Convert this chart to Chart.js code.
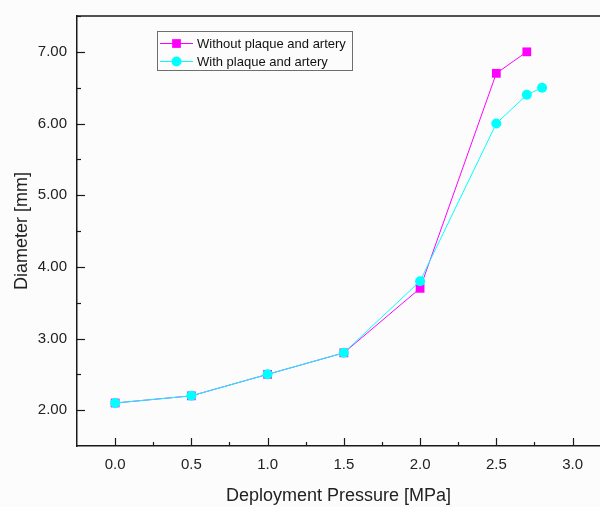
<!DOCTYPE html>
<html>
<head>
<meta charset="utf-8">
<script src="https://cdn.jsdelivr.net/npm/chart.js@4.4.0/dist/chart.umd.min.js"></script>
<style>
    html, body { margin: 0; padding: 0; background: #fcfcfc; }
    #wrap { width: 600px; height: 507px; overflow: hidden; }
</style>
</head>
<body>
<div id="wrap"><canvas id="diameterChart" width="600" height="507"></canvas></div>
<script>
var pressureBare = [0.0, 0.5, 1.0, 1.5, 2.0, 2.5, 2.7];
var diameterBare = [2.1, 2.2, 2.5, 2.8, 3.7, 6.7, 7.0];
var pressurePlaque = [0.0, 0.5, 1.0, 1.5, 2.0, 2.5, 2.7, 2.8];
var diameterPlaque = [2.1, 2.2, 2.5, 2.8, 3.8, 6.0, 6.4, 6.5];
var xTickValues = [0, 0.5, 1, 1.5, 2, 2.5, 3];
var yTickValues = [2, 3, 4, 5, 6, 7];
var seriesLabels = ['Without plaque and artery', 'With plaque and artery'];

var FONT = "'Liberation Sans', Arial, sans-serif";

function toPoints(xs, ys) {
    var pts = [];
    for (var i = 0; i < xs.length; i++) {
        pts.push({ x: xs[i], y: ys[i] });
    }
    return pts;
}

function fixedTicks(values) {
    return function(scale) {
        scale.ticks = values.map(function(v) { return { value: v }; });
    };
}

// inward major/minor ticks plus the top frame line
var frameTicks = {
    id: 'frameTicks',
    afterDraw: function(chart) {
        var ctx = chart.ctx;
        var area = chart.chartArea;
        var xs = chart.scales.x;
        var ys = chart.scales.y;
        ctx.save();
        ctx.strokeStyle = '#1a1a1a';
        ctx.lineWidth = 1.5;
        ctx.beginPath();
        ctx.moveTo(area.left, area.top);
        ctx.lineTo(area.right, area.top);
        ctx.stroke();

        ctx.lineWidth = 1.2;
        function tickX(v, len) {
            var px = Math.round(xs.getPixelForValue(v)) + 0.5;
            if (px < area.left || px > area.right) return;
            ctx.beginPath();
            ctx.moveTo(px, area.bottom);
            ctx.lineTo(px, area.bottom - len);
            ctx.stroke();
        }
        function tickY(v, len) {
            var py = Math.round(ys.getPixelForValue(v)) + 0.5;
            if (py < area.top || py > area.bottom) return;
            ctx.beginPath();
            ctx.moveTo(area.left, py);
            ctx.lineTo(area.left + len, py);
            ctx.stroke();
        }
        for (var i = 0; i < xTickValues.length; i++) {
            tickX(xTickValues[i], 8);
            tickX(xTickValues[i] + 0.25, 4);
        }
        for (var j = 0; j < yTickValues.length; j++) {
            tickY(yTickValues[j], 8);
            tickY(yTickValues[j] + 0.5, 4);
        }
        ctx.restore();
    }
};

// boxed legend with line-through markers
var boxLegend = {
    id: 'boxLegend',
    afterDraw: function(chart) {
        var ctx = chart.ctx;
        var left = 157.5, top = 31.5, width = 195, height = 39;
        ctx.save();
        ctx.strokeStyle = '#6e6e6e';
        ctx.lineWidth = 1;
        ctx.strokeRect(left, top, width, height);

        var order = [1, 0];
        for (var i = 0; i < order.length; i++) {
            var ds = chart.data.datasets[order[i]];
            var y = 43 + i * 18;
            ctx.strokeStyle = ds.borderColor;
            ctx.lineWidth = 1;
            ctx.beginPath();
            ctx.moveTo(160, y + 0.5);
            ctx.lineTo(193, y + 0.5);
            ctx.stroke();
            ctx.fillStyle = ds.pointBackgroundColor;
            Chart.helpers.drawPoint(ctx, {
                pointStyle: ds.pointStyle,
                radius: ds.pointRadius,
                borderWidth: 0,
                rotation: 0
            }, 176.5, y + 0.5);
            ctx.fillStyle = '#111';
            ctx.font = '13px ' + FONT;
            ctx.textBaseline = 'middle';
            ctx.textAlign = 'left';
            ctx.fillText(ds.label, 197, y + 1);
        }
        ctx.restore();
    }
};

var ctx = document.getElementById('diameterChart').getContext('2d');
var diameterChart = new Chart(ctx, {
    type: 'line',
    data: {
        datasets: [
            {
                label: seriesLabels[1],
                data: toPoints(pressurePlaque, diameterPlaque),
                borderColor: '#00ffff',
                backgroundColor: '#00ffff',
                pointBackgroundColor: '#00ffff',
                pointBorderColor: '#00ffff',
                borderWidth: 1,
                pointStyle: 'circle',
                pointRadius: 5,
                pointBorderWidth: 0,
                tension: 0,
                order: 0
            },
            {
                label: seriesLabels[0],
                data: toPoints(pressureBare, diameterBare),
                borderColor: '#ff00ff',
                backgroundColor: '#ff00ff',
                pointBackgroundColor: '#ff00ff',
                pointBorderColor: '#ff00ff',
                borderWidth: 1,
                pointStyle: 'rect',
                pointRadius: 6.2,
                pointBorderWidth: 0,
                tension: 0,
                order: 1
            }
        ]
    },
    options: {
        responsive: false,
        animation: false,
        layout: {
            autoPadding: false,
            padding: { top: 16, right: 0, left: 0, bottom: 0 }
        },
        plugins: {
            legend: { display: false },
            tooltip: { enabled: false }
        },
        scales: {
            x: {
                type: 'linear',
                min: -0.25,
                max: 3.18,
                afterBuildTicks: fixedTicks(xTickValues),
                afterFit: function(scale) {
                    scale.height = 61;
                    scale.paddingLeft = 0;
                    scale.paddingRight = 0;
                },
                grid: { display: false, drawTicks: false },
                border: { display: true, color: '#1a1a1a', width: 1.5 },
                ticks: {
                    padding: 10,
                    color: '#222',
                    font: { family: FONT, size: 15 },
                    callback: function(v) { return Number(v).toFixed(1); }
                },
                title: {
                    display: true,
                    text: 'Deployment Pressure [MPa]',
                    color: '#222',
                    font: { family: FONT, size: 18 },
                    padding: { top: 0, bottom: 0 }
                }
            },
            y: {
                type: 'linear',
                min: 1.5,
                max: 7.5,
                afterBuildTicks: fixedTicks(yTickValues),
                afterFit: function(scale) {
                    scale.width = 77;
                    scale.paddingTop = 0;
                    scale.paddingBottom = 0;
                },
                grid: { display: false, drawTicks: false },
                border: { display: true, color: '#1a1a1a', width: 1.5 },
                ticks: {
                    padding: 10,
                    color: '#222',
                    font: { family: FONT, size: 15 },
                    callback: function(v) { return Number(v).toFixed(2); }
                },
                title: {
                    display: true,
                    text: 'Diameter [mm]',
                    color: '#222',
                    font: { family: FONT, size: 18 },
                    padding: { top: 11, bottom: 0 }
                }
            }
        }
    },
    plugins: [frameTicks, boxLegend]
});
</script>
</body>
</html>
